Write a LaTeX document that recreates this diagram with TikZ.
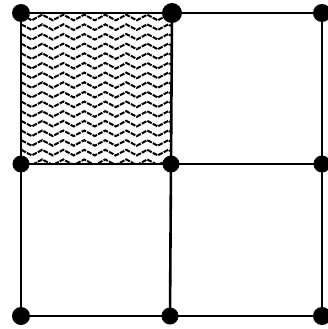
\documentclass[tikz,border=0pt]{standalone}
\usetikzlibrary{decorations.pathmorphing}
\begin{document}
\begin{tikzpicture}[x=1pt,y=-1pt,
  dot/.style={circle,fill=black,inner sep=0pt,minimum size=18pt},
  bigdot/.style={dot,minimum size=20pt},
  gridline/.style={line width=2.6pt},
  zz/.style={line width=2pt,dash pattern=on 5pt off 1.2pt,
    decorate,decoration={zigzag,segment length=21pt,amplitude=2.8pt}}]
\useasboundingbox (0,0) rectangle (328,329);
\begin{scope}
\clip (21,13) rectangle (171,164);
\foreach \r in {0,...,15}{
  \draw[zz] (16,17.5+9.65*\r) -- (180,17.5+9.65*\r);
}
\end{scope}
\node[dot] (a1) at (21,13) {};
\node[bigdot] (a2) at (172,13) {};
\node[dot] (a3) at (322,13) {};
\node[dot,minimum size=17pt] (b1) at (21,164) {};
\node[dot,minimum size=17pt] (b2) at (171,164) {};
\node[dot,minimum size=17pt] (b3) at (322,164) {};
\node[dot] (c1) at (21,316) {};
\node[dot,minimum size=17pt] (c2) at (170,316) {};
\node[dot] (c3) at (322,316) {};
\draw[gridline] (a1.center) -- (a2.center) -- (a3.center);
\draw[gridline] (b1.center) -- (b2.center) -- (b3.center);
\draw[gridline] (c1.center) -- (c2.center) -- (c3.center);
\draw[gridline] (a1.center) -- (b1.center) -- (c1.center);
\draw[gridline] (a2.center) -- (b2.center) -- (c2.center);
\draw[gridline] (a3.center) -- (b3.center) -- (c3.center);
\end{tikzpicture}
\end{document}
